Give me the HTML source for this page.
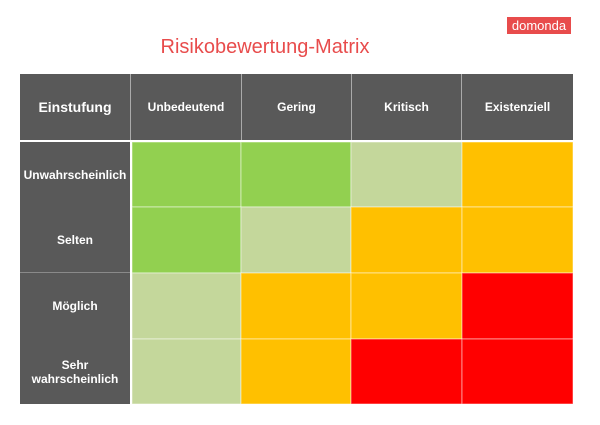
<!DOCTYPE html>
<html><head><meta charset="utf-8"><style>
body{margin:0;width:600px;height:425px;background:#fff;font-family:"Liberation Sans",sans-serif;position:relative;overflow:hidden}
.a{position:absolute;box-sizing:border-box}
.h{background:#595959;color:#fff;font-weight:bold;display:flex;align-items:center;justify-content:center;text-align:center;font-size:12px;border-right:1px solid #aaa}
</style></head><body>
<div class="a" style="left:507px;top:17px;width:64px;height:17px;background:#e84c4c;color:#fff;font-size:13px;line-height:17px;text-align:center">domonda</div>
<div class="a" style="left:130px;top:36px;width:270px;text-align:center;color:#e84c4c;font-size:20px">Risikobewertung-Matrix</div>
<div class="a" style="left:20px;top:74px;width:553px;height:66px;background:#595959;border:1px solid #999"></div>
<div class="a h" style="left:20px;top:74px;width:111px;height:66px;font-size:14px">Einstufung</div>
<div class="a h" style="left:131px;top:74px;width:111px;height:66px">Unbedeutend</div>
<div class="a h" style="left:242px;top:74px;width:110px;height:66px">Gering</div>
<div class="a h" style="left:352px;top:74px;width:110px;height:66px">Kritisch</div>
<div class="a h" style="left:462px;top:74px;width:111px;height:66px;border-right:none">Existenziell</div>
<div class="a" style="left:20px;top:142px;width:110px;height:262px;background:#595959"></div>
<div class="a" style="left:20px;top:272px;width:110px;height:1px;background:#8a8a8a"></div>
<div class="a h" style="left:20px;top:142px;width:110px;height:65px;border:none">Unwahrscheinlich</div>
<div class="a h" style="left:20px;top:207px;width:110px;height:65px;border:none">Selten</div>
<div class="a h" style="left:20px;top:273px;width:110px;height:66px;border:none">Möglich</div>
<div class="a h" style="left:20px;top:339px;width:110px;height:65px;border:none">Sehr<br>wahrscheinlich</div>
<svg class="a" style="left:132px;top:142px" width="441" height="262">
<g stroke="#fff" stroke-opacity="0.5" stroke-width="1">
<rect x="0" y="0" width="109" height="65" fill="#92d050"/>
<rect x="109" y="0" width="110" height="65" fill="#92d050"/>
<rect x="219" y="0" width="111" height="65" fill="#c4d79b"/>
<rect x="330" y="0" width="111" height="65" fill="#ffc000"/>
<rect x="0" y="65" width="109" height="66" fill="#92d050"/>
<rect x="109" y="65" width="110" height="66" fill="#c4d79b"/>
<rect x="219" y="65" width="111" height="66" fill="#ffc000"/>
<rect x="330" y="65" width="111" height="66" fill="#ffc000"/>
<rect x="0" y="131" width="109" height="66" fill="#c4d79b"/>
<rect x="109" y="131" width="110" height="66" fill="#ffc000"/>
<rect x="219" y="131" width="111" height="66" fill="#ffc000"/>
<rect x="330" y="131" width="111" height="66" fill="#ff0000"/>
<rect x="0" y="197" width="109" height="65" fill="#c4d79b"/>
<rect x="109" y="197" width="110" height="65" fill="#ffc000"/>
<rect x="219" y="197" width="111" height="65" fill="#ff0000"/>
<rect x="330" y="197" width="111" height="65" fill="#ff0000"/>
</g></svg>
</body></html>
